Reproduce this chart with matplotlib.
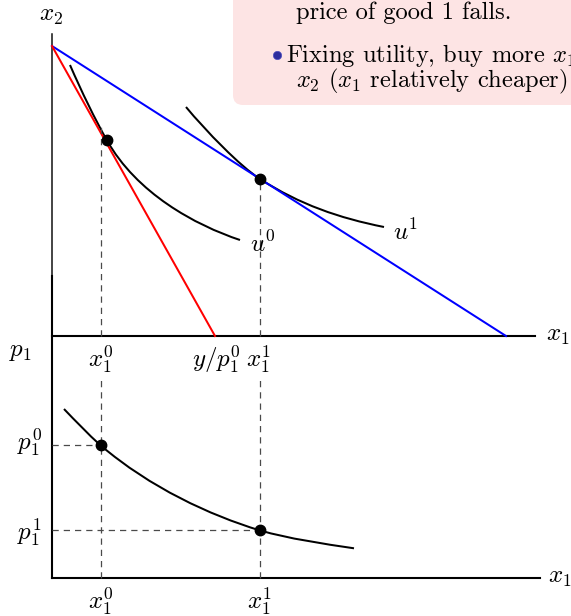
import matplotlib
matplotlib.use('Agg')
import matplotlib.pyplot as plt
from matplotlib.path import Path
from matplotlib.patches import PathPatch, FancyBboxPatch

# upper panel: goods space (x1, x2)
budget_x2_max = 29.0
budget_x1_old = 16.3   # y / p1^0
budget_x1_new = 45.4   # y / p1^1
opt_old = (5.47, 19.6)
opt_new = (20.8, 15.7)
x1_old = 4.87
x1_new = 20.8

# indifference curves as cubic bezier control points
u0_ctrl = [(1.8, 27.1), (3.0, 24.34), (4.27, 21.74), (5.47, 19.6),
           (8.47, 14.26), (14.3, 11.1), (18.8, 9.6)]
u1_ctrl = [(13.4, 22.9), (15.4, 20.5), (18.8, 16.98), (20.8, 15.7),
           (24.8, 13.14), (28.7, 11.8), (33.2, 10.9)]

# lower panel: compensated demand (x1, p1)
p1_old = 13.27
p1_new = 4.77
dem_pts = [(4.85, p1_old), (20.75, p1_new)]
demand_ctrl = [(1.2, 16.9), (2.4, 15.65), (3.6, 14.4), (4.85, 13.27),
               (9.85, 9.02), (15.75, 6.3), (20.75, 4.77),
               (23.8, 3.9), (27.0, 3.45), (30.2, 2.97)]

note_lines = ['price of good 1 falls.',
              'Fixing utility, buy more $x_1$',
              '$x_2$ ($x_1$ relatively cheaper)']

plt.rcParams['mathtext.fontset'] = 'cm'
plt.rcParams['font.family'] = 'serif'
plt.rcParams['font.serif'] = ['cmr10']
plt.rcParams['axes.formatter.use_mathtext'] = True

FS = 17.6
MFS = 18
CW = 1.45
DASH = dict(color='#4a4a4a', lw=0.9, ls=(0, (5, 4)))


def bezier(ctrl):
    codes = [Path.MOVETO] + [Path.CURVE4] * (len(ctrl) - 1)
    return Path(ctrl, codes)


fig = plt.figure(figsize=(5.71, 6.16), dpi=100)
top = fig.add_axes([0, 0, 1, 1])
bot = fig.add_axes([0, 0, 1, 1])
for ax in (top, bot):
    ax.set_axis_off()
    ax.set_xlim(-5.2, 51.9)
    ax.patch.set_alpha(0)
top.set_ylim(-28.0, 33.6)
bot.set_ylim(-3.8, 57.8)

# note box
top.add_patch(FancyBboxPatch((18.1, 23.1), 40, 14,
                             boxstyle='round,pad=0,rounding_size=1.0',
                             fc='#fde4e4', ec='none', zorder=0))
top.text(24.4, 32.3, note_lines[0], fontsize=FS, va='center')
top.plot(22.5, 28.1, 'o', ms=6, color='#2e2e9e', mec='#5050c0', mew=0.5)
top.text(23.4, 28.1, note_lines[1], fontsize=FS, va='center')
top.text(24.4, 25.5, note_lines[2], fontsize=FS, va='center')

# upper axes
top.plot([0, 0], [0, 30.2], color='#111111', lw=1.1)
top.plot([0, 48.3], [0, 0], color='k', lw=1.5)
top.text(-0.1, 32.0, '$x_2$', fontsize=MFS, ha='center', va='center')
top.text(49.4, 0, '$x_1$', fontsize=MFS, ha='left', va='center')

top.plot([0, budget_x1_new], [budget_x2_max, 0], color='#0000ff', lw=CW)
top.plot([0, budget_x1_old], [budget_x2_max, 0], color='#ff0000', lw=CW)

top.add_patch(PathPatch(bezier(u0_ctrl), fc='none', ec='k', lw=CW))
top.add_patch(PathPatch(bezier(u1_ctrl), fc='none', ec='k', lw=CW))
top.text(21.1, 9.2, '$u^0$', fontsize=MFS, ha='center', va='center')
top.text(35.4, 10.4, '$u^1$', fontsize=MFS, ha='center', va='center')

top.plot([x1_old, x1_old], [0, 21.1], **DASH)
top.plot([x1_new, x1_new], [0, opt_new[1]], **DASH)
top.plot(*zip(opt_old, opt_new), 'o', color='k', ms=7.5, ls='none')

top.text(x1_old, -2.4, '$x_1^0$', fontsize=MFS, ha='center', va='center')
top.text(16.45, -2.4, '$y/p_1^0$', fontsize=MFS, ha='center', va='center')
top.text(20.65, -2.4, '$x_1^1$', fontsize=MFS, ha='center', va='center')

# lower axes
bot.plot([0, 0], [0, 30.2], color='k', lw=1.5)
bot.plot([0, 48.8], [0, 0], color='k', lw=1.5)
bot.text(-3.2, 22.6, '$p_1$', fontsize=MFS, ha='center', va='center')
bot.text(49.6, 0, '$x_1$', fontsize=MFS, ha='left', va='center')

bot.add_patch(PathPatch(bezier(demand_ctrl), fc='none', ec='k', lw=CW))
for x, p in dem_pts:
    bot.plot([0, x], [p, p], **DASH)
    bot.plot([x, x], [0, 19.8], **DASH)
bot.plot(*zip(*dem_pts), 'o', color='k', ms=7.5, ls='none')

bot.text(-2.25, p1_old + 0.2, '$p_1^0$', fontsize=MFS, ha='center', va='center')
bot.text(-2.25, p1_new - 0.3, '$p_1^1$', fontsize=MFS, ha='center', va='center')
bot.text(dem_pts[0][0], -2.4, '$x_1^0$', fontsize=MFS, ha='center', va='center')
bot.text(dem_pts[1][0], -2.4, '$x_1^1$', fontsize=MFS, ha='center', va='center')

fig.savefig('out.png', dpi=100)
